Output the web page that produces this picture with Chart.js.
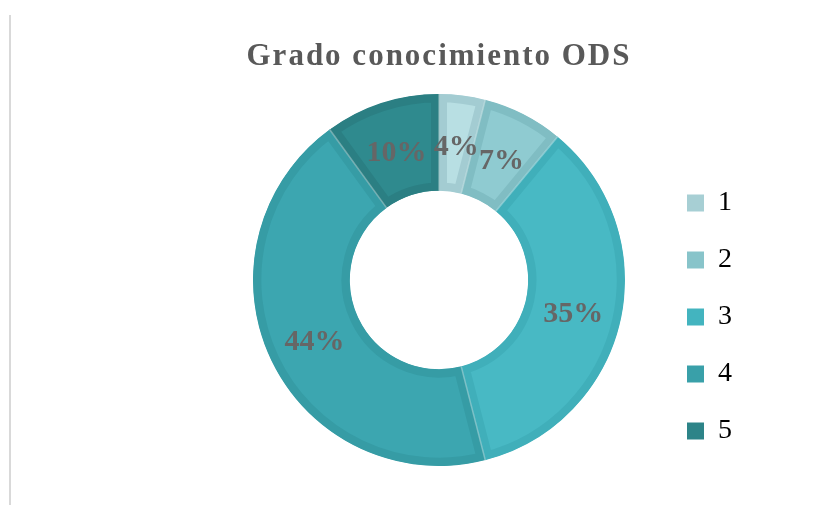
<!DOCTYPE html>
<html>
<head>
<meta charset="utf-8">
<script src="https://cdn.jsdelivr.net/npm/chart.js@4"></script>
<style>
  html, body { margin: 0; padding: 0; background: #fff; }
  #wrap { position: relative; width: 830px; height: 505px; }
  #edge { position: absolute; left: 9px; top: 15px; width: 2px; height: 490px; background: #d9d9d9; }
</style>
</head>
<body>
<div id="wrap">
  <div id="edge"></div>
  <canvas id="chart" width="830" height="505"></canvas>
</div>
<script>
const labels = ["1", "2", "3", "4", "5"];
const values = [4, 7, 35, 44, 10];
const fillColors = ["#b8dfe3", "#8fcbd1", "#48b9c4", "#3ca6b0", "#2f8a8e"];
const edgeColors = ["#a3ccd2", "#80bdc3", "#40afba", "#369ca5", "#2b7f83"];
const keyColors = ["#a7cfd4", "#88c4ca", "#43b4bf", "#39a0a9", "#2d8488"];

// title letter spacing (title + legend are drawn before the datasets)
const spacing = {
  id: "spacing",
  beforeDraw(chart) { chart.ctx.letterSpacing = "2px"; },
  beforeDatasetsDraw(chart) { chart.ctx.letterSpacing = "0px"; }
};

// thin light seams between slices, then the percent labels
const sliceText = {
  id: "sliceText",
  afterDatasetsDraw(chart) {
    const ctx = chart.ctx;
    const meta = chart.getDatasetMeta(0);
    const total = values.reduce((a, b) => a + b, 0);
    ctx.save();
    ctx.letterSpacing = "0px";
    ctx.strokeStyle = "rgba(255,255,255,0.35)";
    ctx.lineWidth = 1.5;
    meta.data.forEach(arc => {
      const a = arc.startAngle;
      ctx.beginPath();
      ctx.moveTo(arc.x + Math.cos(a) * arc.innerRadius, arc.y + Math.sin(a) * arc.innerRadius);
      ctx.lineTo(arc.x + Math.cos(a) * arc.outerRadius, arc.y + Math.sin(a) * arc.outerRadius);
      ctx.stroke();
    });
    ctx.font = "bold 30px 'Liberation Serif', serif";
    ctx.fillStyle = "#666666";
    ctx.textAlign = "center";
    ctx.textBaseline = "middle";
    meta.data.forEach((arc, i) => {
      const p = arc.getCenterPoint();
      ctx.fillText(Math.round(values[i] / total * 100) + "%", p.x, p.y + 4);
    });
    ctx.restore();
  }
};

new Chart(document.getElementById("chart"), {
  type: "doughnut",
  data: {
    labels: labels,
    datasets: [{
      data: values,
      backgroundColor: fillColors,
      borderColor: edgeColors,
      borderWidth: 8,
      borderAlign: "inner"
    }]
  },
  options: {
    responsive: false,
    animation: false,
    radius: 186,
    cutout: 93,
    layout: { padding: { left: 220, right: 88, top: 0, bottom: 31 } },
    plugins: {
      tooltip: { enabled: false },
      title: {
        display: true,
        fullSize: false,
        text: "Grado conocimiento ODS",
        color: "#595959",
        font: { family: "'Liberation Serif', serif", size: 31, weight: "bold" },
        padding: { top: 38.5, bottom: 10.3 }
      },
      legend: {
        position: "right",
        align: "end",
        labels: {
          boxWidth: 17,
          boxHeight: 17,
          padding: 29,
          color: "#595959",
          font: { family: "'Liberation Serif', serif", size: 28 },
          generateLabels: () => labels.map((l, i) => ({
            text: l,
            fillStyle: keyColors[i],
            strokeStyle: keyColors[i],
            lineWidth: 0,
            index: i
          }))
        }
      }
    }
  },
  plugins: [spacing, sliceText]
});
</script>
</body>
</html>
